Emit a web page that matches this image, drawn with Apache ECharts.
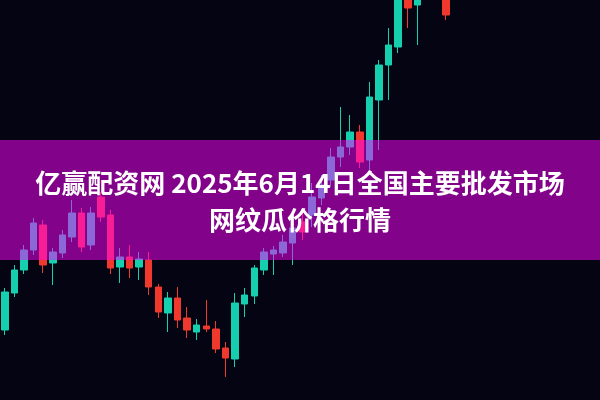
<!DOCTYPE html>
<html>
<head>
<meta charset="utf-8">
<script src="https://cdn.jsdelivr.net/npm/echarts@6/dist/echarts.min.js"></script>
<style>html,body{margin:0;padding:0;background:#050412;}#c{width:600px;height:400px;}</style>
</head>
<body>
<div id="c"></div>
<script>
// Title text
var titleLine1 = '亿赢配资网 2025年6月14日全国主要批发市场';
var titleLine2 = '网纹瓜价格行情';

// Candle categories (no labels shown in the picture)
var categories = ['1','2','3','4','5','6','7','8','9','10','11','12','13','14','15','16',
  '17','18','19','20','21','22','23','24','25','26','27','28','29','30','31','32',
  '33','34','35','36','37','38','39','40','41','42','43','44','45','46','47'];

// Candle values: [open, close, low, high]
var candles = [
  [70, 108, 65, 112],
  [107, 130, 103, 135],
  [130, 150, 126, 155],
  [150, 177, 145, 182],
  [175, 135, 127, 180],
  [137, 148, 115, 152],
  [147, 165, 142, 170],
  [163, 187, 158, 200],
  [187, 153, 148, 192],
  [155, 187, 150, 193],
  [203, 183, 178, 208],
  [185, 132, 126, 190],
  [133, 143, 117, 152],
  [143, 132, 122, 155],
  [133, 141, 120, 148],
  [140, 113, 105, 148],
  [113, 88, 82, 116],
  [87, 102, 68, 108],
  [102, 80, 72, 113],
  [82, 70, 62, 93],
  [68, 75, 60, 81],
  [74, 71, 68, 100],
  [71, 51, 47, 79],
  [52, 42, 23, 58],
  [41, 97, 33, 107],
  [96, 105, 83, 112],
  [104, 132, 96, 135],
  [130, 148, 125, 152],
  [146, 150, 125, 154],
  [147, 158, 143, 165],
  [157, 172, 135, 187],
  [178, 168, 160, 188],
  [185, 203, 173, 217],
  [202, 215, 195, 225],
  [220, 243, 213, 252],
  [243, 253, 233, 293],
  [253, 268, 245, 285],
  [268, 238, 232, 275],
  [240, 303, 230, 318],
  [300, 335, 250, 340],
  [335, 355, 300, 372],
  [353, 410, 347, 420],
  [415, 392, 372, 420],
  [395, 420, 355, 430],
  [425, 460, 415, 470],
  [465, 440, 435, 470],
  [420, 385, 380, 430]
];

var chart = echarts.init(document.getElementById('c'));
chart.setOption({
  backgroundColor: '#050412',
  animation: false,
  grid: { left: -5, right: 149, top: 0, bottom: 0 },
  xAxis: {
    type: 'category', data: categories, boundaryGap: true,
    axisLine: { show: false }, axisTick: { show: false }, axisLabel: { show: false }, splitLine: { show: false }
  },
  yAxis: {
    type: 'value', min: 0, max: 400,
    axisLine: { show: false }, axisTick: { show: false }, axisLabel: { show: false }, splitLine: { show: false }
  },
  series: [{
    type: 'candlestick',
    data: candles,
    barWidth: 7,
    clip: true,
    itemStyle: {
      color: '#16cfae',
      color0: '#f0392c',
      borderColor: '#16cfae',
      borderColor0: '#f0392c',
      borderWidth: 1
    }
  }],
  graphic: [
    {
      type: 'rect', z: 100,
      shape: { x: 0, y: 140, width: 600, height: 120 },
      style: { fill: 'rgba(255,0,255,0.5)' }
    },
    {
      type: 'text', z: 101, x: 300, y: 183,
      style: {
        text: titleLine1, fill: '#ffffff',
        font: 'bold 26px "Noto Sans CJK SC", sans-serif',
        textAlign: 'center', textVerticalAlign: 'middle'
      }
    },
    {
      type: 'text', z: 101, x: 300, y: 220,
      style: {
        text: titleLine2, fill: '#ffffff',
        font: 'bold 26px "Noto Sans CJK SC", sans-serif',
        textAlign: 'center', textVerticalAlign: 'middle'
      }
    }
  ]
});
</script>
</body>
</html>
